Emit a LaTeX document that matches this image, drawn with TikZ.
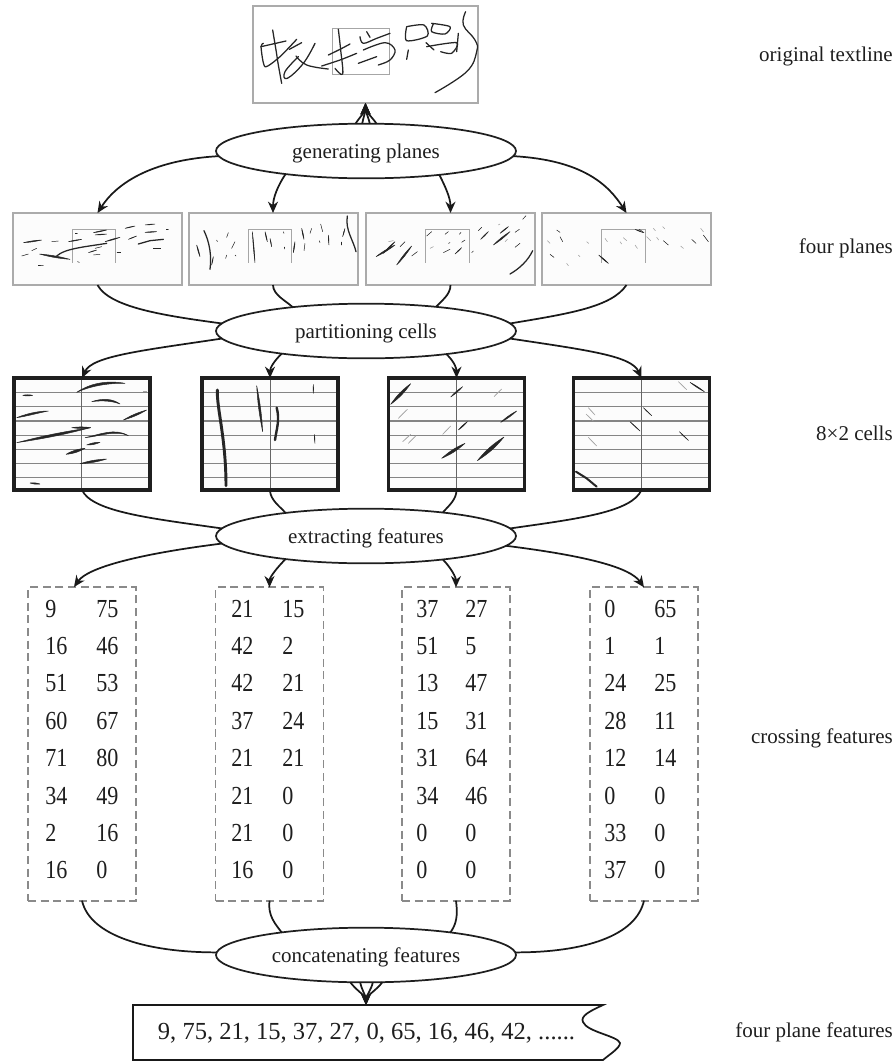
\documentclass[tikz,border=0pt]{standalone}
\usepackage{fontspec}
\setmainfont{Liberation Serif}
\newfontfamily\numfont[FakeStretch=.85]{Liberation Serif}
\usetikzlibrary{shapes.geometric,arrows.meta}
\definecolor{bgrey}{HTML}{ABABAB}
\definecolor{lgrey}{HTML}{8A8A8A}
\definecolor{tink}{HTML}{1E1E1E}
\tikzset{
  txt/.style={font=\fontsize{15.75}{18}\selectfont,text=tink,inner sep=0pt},
  numtxt/.style={font=\numfont\fontsize{19.5}{22}\selectfont,text=tink,inner sep=0pt,anchor=base west},
  oval/.style={ellipse,draw=black!88,line width=1.3pt,fill=white,minimum width=225pt,minimum height=41pt,inner sep=0pt,outer sep=0pt,txt,text height=12pt,text depth=.8pt},
  planebox/.style={draw=bgrey,line width=1.5pt,fill=black!1,minimum width=126.75pt,minimum height=54pt,inner sep=0pt,outer sep=0pt},
  cellbox/.style={draw=black!88,line width=2.8pt,fill=black!1,minimum width=102pt,minimum height=84pt,inner sep=0pt,outer sep=0pt},
  dashbox/.style={draw=lgrey,line width=1.4pt,dash pattern=on 6pt off 3.5pt,minimum width=81pt,minimum height=235pt,inner sep=0pt,outer sep=0pt},
  link/.style={draw=black!90,line width=1.3pt},
  linka/.style={link,-{Stealth[length=8.5pt,width=7.5pt]}},
  ink/.style={line cap=round,line join=round,black!85,line width=.95pt},
  inkf/.style={fill=black!85,draw=black!85,line width=.35pt,line join=round},
  ghostf/.style={fill=black!35,draw=black!35,line width=.4pt,line join=round},
  grid/.style={line width=.9pt,black!48},
  gridv/.style={line width=.7pt,black!60},
  inner/.style={line width=.6pt,black!35},
  zoomed/.style={x=.25pt,y=-.25pt},
}
% tapered strokes: #1 style, #2 bend angle, #3 list x1/y1/x2/y2
\newcommand\taper[3]{\foreach \xa/\ya/\xb/\yb in {#3}{\filldraw[#1] (\xa,\ya) to[bend left=#2] (\xb,\yb) to[bend left=#2] (\xa,\ya);}}
% tapered curve: start, two controls, end, and mid thickness offset
\newcommand\lcurve[9]{\filldraw[inkf] (#1,#2) .. controls (#3,#4) and (#5,#6) .. (#7,#8) .. controls (#5,#6+#9) and (#3,#4+#9) .. (#1,#2);}
\begin{document}
\begin{tikzpicture}[x=.75pt,y=-.75pt]
\useasboundingbox (0,0) rectangle (896,1061);
% nodes
\node[draw=bgrey,line width=1.5pt,minimum width=168.75pt,minimum height=72.75pt,outer sep=0pt,inner sep=0pt] (top) at (365.5,54.5) {};
\node[oval] (e1) at (366,151) {generating planes};
\node[oval] (e2) at (366,331) {partitioning cells};
\node[oval] (e3) at (366,536) {extracting features};
\node[oval] (e4) at (366,955) {concatenating features};
\node[planebox] (p1) at (97.5,249) {};
\node[planebox] (p2) at (273,249) {};
\node[planebox] (p3) at (450.5,249) {};
\node[planebox] (p4) at (626.5,249) {};
\node[cellbox] (c1) at (82,434) {};
\node[cellbox] (c2) at (270,434) {};
\node[cellbox] (c3) at (456.5,434) {};
\node[cellbox] (c4) at (641.5,434) {};
\node[dashbox] (d1) at (82,744) {};
\node[dashbox] (d2) at (269.5,744) {};
\node[dashbox] (d3) at (456,744) {};
\node[dashbox] (d4) at (644,744) {};
\coordinate (d1a) at (74,587);
\coordinate (btop) at (366,1005);
% handwriting
\begin{scope}[shift={(200,0)},zoomed]
\draw[inner] (397,85) rectangle (569,223);
\draw[ink] plot[smooth,tension=.6] coordinates {(218,90) (228,150) (235,195) (245,250)};
\draw[ink] plot[smooth,tension=.4] coordinates {(190,130) (183,140) (195,200) (240,170) (290,118)};
\draw[ink] (183,140) -- (258,123);
\draw[ink] (268,148) -- (305,128);
\draw[ink] plot[smooth,tension=.7] coordinates {(345,130) (310,190) (262,235) (255,215) (295,170)};
\draw[ink] plot[smooth,tension=.7] coordinates {(288,168) (320,195) (385,207)};
\draw[ink] plot[smooth,tension=.6] coordinates {(385,165) (420,148) (450,132)};
\draw[ink] plot[smooth,tension=.6] coordinates {(365,198) (420,180) (470,160)};
\draw[ink] plot[smooth,tension=.6] coordinates {(415,88) (422,150) (428,222) (405,205)};
\draw[ink] plot[smooth,tension=.6] coordinates {(480,110) (490,130) (530,115) (570,100)};
\draw[ink] plot[smooth,tension=.6] coordinates {(490,150) (555,128) (585,150) (570,180) (535,195)};
\draw[ink] (475,190) -- (530,170);
\draw[ink] (500,95) -- (510,112);
\draw[ink] plot[smooth,tension=.5] coordinates {(620,80) (620,122) (682,108) (672,75) (620,80)};
\draw[ink] (625,150) -- (620,178);
\draw[ink] (678,128) -- (702,150);
\draw[ink] plot[smooth,tension=.5] coordinates {(695,70) (750,80) (735,102) (695,95) (700,72)};
\draw[ink] plot[smooth,tension=.5] coordinates {(680,140) (770,128) (755,160) (722,155)};
\draw[ink] (775,100) -- (770,155);
\draw[ink] plot[smooth,tension=.7] coordinates {(797,35) (790,75) (825,120) (830,155) (800,215) (705,278)};
\end{scope}
% plane 1 and 2
\begin{scope}[shift={(0,200)},zoomed]
\draw[inner] (216,188) -- (216,88) -- (347,88) -- (347,188);
\draw[inner] (744,188) -- (744,88) -- (873,88) -- (873,188);
\taper{inkf}{5}{70/128/125/120,155/125/175/123,205/125/245/118,65/168/85/162,95/152/110/145,280/98/320/90,285/105/320/102,225/100/232/100,315/125/360/112,265/158/290/150,285/145/305/140,280/165/300/163,375/85/405/78,385/118/410/108,435/75/465/72,435/97/470/95,460/145/482/145,498/88/505/88,115/195/130/195,232/185/238/187,350/157/362/157,118/162/210/178}
\draw[ink] (170,168) .. controls (195,145) and (260,140) .. (320,130);
\draw[ink] (415,132) -- (450,122) -- (490,118);
\taper{inkf}{6}{590/135/600/170,650/120/652/125,685/98/680/112,705/125/695/145,640/170/635/195,680/165/677/175,705/165/708/168,795/95/802/125,810/115/815/140,850/95/852/100,852/140/852/147,885/125/880/158,905/85/912/118,935/85/930/100,915/130/912/152,962/72/968/95,985/105/987/135,958/122/960/128,1035/85/1028/110,1025/125/1025/135}
\taper{inkf}{2}{757/95/765/188}
\draw[ink] (612,92) .. controls (630,130) and (635,170) .. (630,208);
\draw[ink] (1042,48) .. controls (1035,90) and (1060,120) .. (1068,155);
\end{scope}
% plane 3 and 4
\begin{scope}[shift={(360,200)},zoomed]
\draw[inner] (196,188) -- (196,88) -- (327,88) -- (327,188);
\draw[inner] (724,188) -- (724,88) -- (855,88) -- (855,188);
\taper{inkf}{6}{48/170/105/135,70/160/105/125,120/140/135/125,110/195/155/138,155/168/172/155,200/108/215/95,255/103/265/95,298/103/303/97,265/130/270/128,305/127/315/120,250/158/270/148,285/162/305/143,355/92/365/82,362/118/385/95,420/100/445/80,400/135/450/95,465/97/478/88,465/142/480/130,335/158/340/153,488/58/498/47}
\draw[ink] (450,222) .. controls (480,205) and (505,180) .. (518,152);
\taper{ghostf}{8}{85/125/100/122,210/145/220/140,415/75/420/72,435/125/442/118}
\taper{inkf}{6}{590/90/600/97,600/110/608/125,570/163/582/172,716/165/745/190,825/88/850/98,838/88/852/98,910/122/925/135,995/118/1008/130,1030/105/1045/125}
\taper{ghostf}{8}{562/122/570/130,620/190/625/197,655/165/660/170,680/125/686/130,735/115/742/125,780/125/785/132,790/113/800/122,825/135/832/145,860/110/872/122,890/112/896/120,880/85/886/92,908/80/914/86,962/138/970/145,1022/85/1030/95}
\end{scope}
% cell grids
\foreach \xa/\xb/\xm in {16/148/81.7,204/336/270,390/523/456.7,575/708/641}{
  \foreach \yy in {392.7,406.7,421,435.3,449.3,463.7,477.7}
    \draw[grid] (\xa,\yy) -- (\xb,\yy);
  \draw[gridv] (\xm,380) -- (\xm,488);
}
% cell 1 and 2
\begin{scope}[shift={(0,365)},zoomed]
\lcurve{230}{82}{270}{55}{320}{45}{375}{55}{9}
\lcurve{275}{110}{310}{98}{340}{102}{360}{117}{7}
\lcurve{50}{158}{75}{148}{110}{138}{145}{138}{7}
\lcurve{255}{218}{300}{208}{345}{188}{385}{212}{6}
\taper{inkf}{12}{68/91/98/91,90/354/120/357,260/240/300/232,198/268/255/250}
\taper{inkf}{7}{370/165/440/135,240/296/320/282}
\taper{ghostf}{6}{430/80/440/80}
\taper{inkf}{3}{50/233/272/188}
\taper{inkf}{8}{215/188/272/188}
% cell 2
\draw[black!85,line width=2.2pt,line cap=round] (652,75) .. controls (650,130) and (678,220) .. (678,362);
\taper{inkf}{4}{770/62/788/200}
\draw[black!85,line width=1.8pt,line cap=round] (830,128) .. controls (840,165) and (830,190) .. (825,225);
\taper{inkf}{6}{940/58/940/85,943/208/945/235}
\end{scope}
% cell 3 and 4
\begin{scope}[shift={(370,365)},zoomed]
\taper{inkf}{9}{62/118/122/56,215/280/285/235,322/287/402/216}
\taper{inkf}{7}{242/96/278/65,392/172/440/138,265/195/292/170}
\taper{ghostf}{2}{372/95/395/72,85/160/112/133,218/208/242/183,98/230/122/208,115/235/138/212}
% cell 4
\taper{inkf}{5}{960/52/1003/80}
\draw[black!85,line width=1.5pt,line cap=round,line join=round] (618,320) -- (650,340) -- (680,365);
\taper{inkf}{3}{820/128/845/152,780/170/810/198,928/200/955/226}
\taper{ghostf}{2}{925/50/950/74,655/128/675/150,648/147/670/168,655/217/680/243}
\end{scope}
% numbers
\foreach \i/\n/\a/\b/\c/\d/\e/\f/\g/\h in {
 1/609/9/75/21/15/37/27/0/65,
 2/646/16/46/42/2/51/5/1/1,
 3/683/51/53/42/21/13/47/24/25,
 4/721/60/67/37/24/15/31/28/11,
 5/758/71/80/21/21/31/64/12/14,
 6/796/34/49/21/0/34/46/0/0,
 7/833/2/16/21/0/0/0/33/0,
 8/870/16/0/16/0/0/0/37/0}{
  \node[numtxt] (n\i a) at (45,\n+8.5) {\a};
  \node[numtxt] (n\i b) at (96,\n+8.5) {\b};
  \node[numtxt] (n\i c) at (231,\n+8.5) {\c};
  \node[numtxt] (n\i d) at (282,\n+8.5) {\d};
  \node[numtxt] (n\i e) at (416,\n+8.5) {\e};
  \node[numtxt] (n\i f) at (465,\n+8.5) {\f};
  \node[numtxt] (n\i g) at (604,\n+8.5) {\g};
  \node[numtxt] (n\i h) at (654,\n+8.5) {\h};
}
% output box
\draw[link] (133,1060) -- (133,1005) -- (603,1005) .. controls (590,1011) and (580,1016) .. (583,1022) .. controls (587,1032) and (618,1036) .. (620,1043) .. controls (620,1048) and (610,1054) .. (603,1060) -- cycle;
\node[txt,font=\fontsize{18.4}{20}\selectfont] (out) at (366.5,1033) {9, 75, 21, 15, 37, 27, 0, 65, 16, 46, 42, ......};
% side labels
\node[txt,anchor=east] (l1) at (893,56) {original textline};
\node[txt,anchor=east] (l2) at (893,248) {four planes};
\node[txt,anchor=east] (l3) at (893,433) {8×2 cells};
\node[txt,anchor=east] (l4) at (893,738) {crossing features};
\node[txt,anchor=east] (l5) at (893,1032) {four plane features};
% connectors
\foreach \ang/\cx in {111/3,98/1,82/-1,69/-3}
  \draw[linka] (e1.\ang) .. controls +(\cx,-5) and +(0,8) .. (top.south);
\draw[linka] (e1.182.7) .. controls +(-70,4) and +(18,-28) .. (p1.north);
\draw[linka] (e1.196) .. controls +(-8,12) and +(0,-15) .. (p2.north);
\draw[linka] (e1.-18) .. controls +(6,12) and +(0,-15) .. (p3.north);
\draw[linka] (e1.-2.7) .. controls +(70,4) and +(-18,-28) .. (p4.north);
\draw[link] (p1.south) .. controls +(12,22) and +(-60,-8) .. (e2.177);
\draw[link] (p2.south) .. controls +(0,10) and +(-6,-6) .. (e2.162.6);
\draw[link] (p3.south) .. controls +(0,10) and +(5,-6) .. (e2.19.4);
\draw[link] (p4.south) .. controls +(-15,22) and +(60,-10) .. (e2.3.5);
\draw[linka] (e2.183) .. controls +(-80,12) and +(10,-22) .. (c1.north);
\draw[linka] (e2.195) .. controls +(-8,8) and +(0,-10) .. (c2.north);
\draw[linka] (e2.-16.4) .. controls +(8,8) and +(0,-10) .. (c3.north);
\draw[linka] (e2.-3) .. controls +(80,12) and +(-10,-22) .. (c4.north);
\draw[link] (c1.south) .. controls +(10,22) and +(-70,-10) .. (e3.177);
\draw[link] (c2.south) .. controls +(0,10) and +(-5,-6) .. (e3.164);
\draw[link] (c3.south) .. controls +(0,10) and +(5,-6) .. (e3.17);
\draw[link] (c4.south) .. controls +(-10,22) and +(70,-10) .. (e3.3.5);
\draw[linka] (e3.183) .. controls +(-80,10) and +(14,-20) .. (d1a);
\draw[linka] (e3.196) .. controls +(-8,8) and +(0,-10) .. (d2.north);
\draw[linka] (e3.-17.5) .. controls +(8,8) and +(0,-10) .. (d3.north);
\draw[linka] (e3.-4) .. controls +(80,10) and +(-14,-20) .. (d4.north);
\draw[link] (d1.south) .. controls +(8,35) and +(-70,0) .. (e4.179);
\draw[link] (d2.south) .. controls +(-2,15) and +(-6,-8) .. (e4.165);
\draw[link] (d3.south) .. controls +(2,15) and +(6,-8) .. (e4.15);
\draw[link] (d4.south) .. controls +(-8,35) and +(70,0) .. (e4.1);
\foreach \ang/\cx in {-120/4,-102/1,-76/-1,-59/-4}
  \draw[linka] (e4.\ang) .. controls +(\cx,6) and +(0,-8) .. (btop);
\end{tikzpicture}
\end{document}
